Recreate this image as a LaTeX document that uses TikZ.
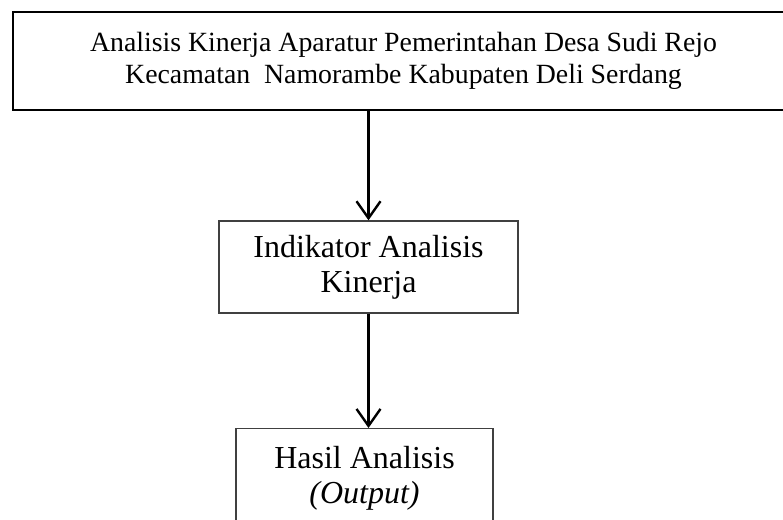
\documentclass[tikz,border=0pt]{standalone}
\usepackage{fontspec}
\setmainfont{Liberation Serif}
\usetikzlibrary{arrows.meta,positioning}

\tikzset{
    kotak/.style={draw, line width=1.4pt, draw=black!75, align=center, font=\fontsize{32}{35}\selectfont},
    panah/.style={line width=2.4pt, -{Straight Barb[length=17pt,width=24pt]}}
}

\begin{document}
\begin{tikzpicture}[x=1pt, y=-1pt]
            \useasboundingbox (0,0) rectangle (783,519);
            \node[draw, line width=2.2pt, align=center, minimum width=781pt, minimum height=98pt,
                  font=\fontsize{27.8}{32}\selectfont] (judul) at (403.5,61)
                {Analisis Kinerja Aparatur Pemerintahan Desa Sudi Rejo\\Kecamatan\ \ Namorambe Kabupaten Deli Serdang};
            \node[kotak, minimum width=299pt, minimum height=92pt] (indikator) at (368.5,267)
                {Indikator Analisis\\Kinerja};
            \node[kotak, anchor=north, minimum width=257pt, inner ysep=18pt] (hasil) at (364.5,428)
                {Hasil Analisis\\\textit{(Output)}};
            \draw[panah] (indikator.north |- judul.south) -- (indikator.north);
            \draw[panah] (indikator.south) -- (indikator.south |- hasil.north);
        \end{tikzpicture}
\end{document}
